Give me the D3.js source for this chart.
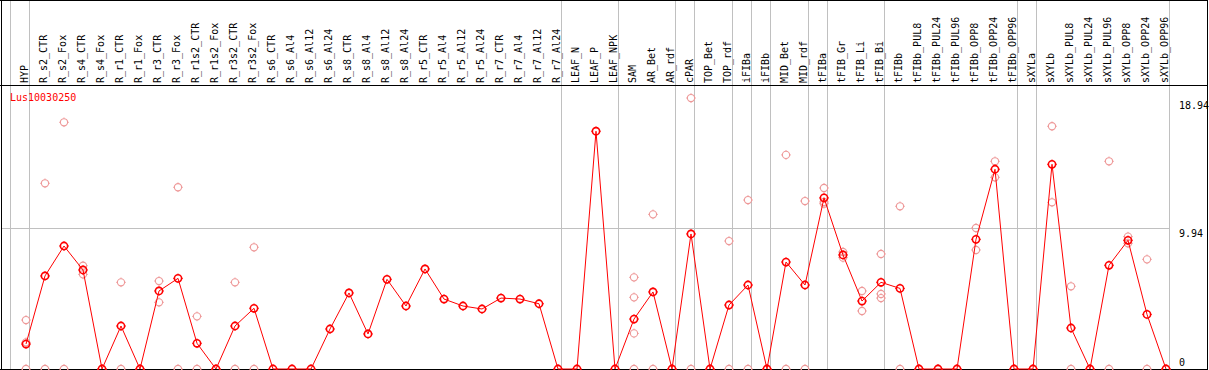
<!DOCTYPE html>
<html><head><meta charset="utf-8">
<script src="https://cdn.jsdelivr.net/npm/d3@7"></script>
<style>body{margin:0;background:#fff}svg{display:block}</style>
</head><body>
<script>
const categories = ["HYP","R_s2_CTR","R_s2_Fox","R_s4_CTR","R_s4_Fox","R_r1_CTR","R_r1_Fox","R_r3_CTR","R_r3_Fox","R_r1s2_CTR","R_r1s2_Fox","R_r3s2_CTR","R_r3s2_Fox","R_s6_CTR","R_s6_Al4","R_s6_Al12","R_s6_Al24","R_s8_CTR","R_s8_Al4","R_s8_Al12","R_s8_Al24","R_r5_CTR","R_r5_Al4","R_r5_Al12","R_r5_Al24","R_r7_CTR","R_r7_Al4","R_r7_Al12","R_r7_Al24","LEAF_N","LEAF_P","LEAF_NPK","SAM","AR_Bet","AR_rdf","cPAR","TOP_Bet","TOP_rdf","iFIBa","iFIBb","MID_Bet","MID_rdf","tFIBa","tFIB_Gr","tFIB_Li","tFIB_Bi","tFIBb","tFIBb_PUL8","tFIBb_PUL24","tFIBb_PUL96","tFIBb_OPP8","tFIBb_OPP24","tFIBb_OPP96","sXYLa","sXYLb","sXYLb_PUL8","sXYLb_PUL24","sXYLb_PUL96","sXYLb_OPP8","sXYLb_OPP24","sXYLb_OPP96"];
const meanValues = [1.76,6.56,8.67,6.98,0,3.03,0,5.50,6.39,1.81,0,3.03,4.28,0,0,0,2.82,5.36,2.47,6.32,4.44,7.05,4.93,4.44,4.23,5.0,4.93,4.6,0,0,16.76,0,3.52,5.43,0,9.52,0,4.51,5.92,0,7.54,5.92,12.06,8.04,4.79,6.11,5.68,0,0,0,9.14,14.08,0,0,14.43,2.89,0,7.31,9.07,3.85,0];
const replicates = [[3.45,1.88,0],[13.09,0],[17.39,0],[7.28,6.67],[0],[6.11,0],[0],[6.2,4.7],[12.81,0],[3.71,0],[0],[6.11,0],[8.58,0],[],[],[],[],[],[],[],[],[],[],[],[],[],[],[],[],[],[],[],[6.46,5.05,2.51,0],[10.9,0],[0],[19.1,0],[0],[9.02,0],[11.91,0],[0],[15.09,0],[11.84,0],[12.76,11.77,11.65],[8.25,7.85],[5.5,4.09],[8.11,5.29,5.0],[11.47,0],[0],[0],[0],[9.94,8.39],[14.64,13.51],[0],[0],[17.11,11.75],[5.83,0],[0],[14.64,0],[9.33,8.86],[7.73,0],[0]];
const separators = [0,1,29,32,35,36,38,39,40,42,43,46,53,54,61];
const yTicks = [0, 9.94, 18.94];
const geneName = "Lus10030250";

const W = 1209, H = 370;
const svg = d3.select("body").append("svg").attr("width", W).attr("height", H);
const font = "'DejaVu Sans Mono', monospace";

const colX = d3.scaleLinear().domain([0, categories.length]).range([11, 11 + 19 * categories.length]);
const px = i => colX(i) + 15;
const y = d3.scaleLinear().domain([0, 18.94]).range([369, 100.3]);

svg.append("g").selectAll("line").data(separators).join("line")
  .attr("x1", d => colX(d) - 0.5).attr("x2", d => colX(d) - 0.5)
  .attr("y1", 0).attr("y2", 369)
  .attr("stroke", "#c0c0c0").attr("stroke-width", 1);

svg.append("line").attr("x1", 1).attr("x2", colX(61)).attr("y1", Math.round(y(9.94)) + 0.5).attr("y2", Math.round(y(9.94)) + 0.5)
  .attr("stroke", "#c0c0c0");

svg.append("line").attr("x1", 0).attr("x2", 1208).attr("y1", 0.5).attr("y2", 0.5).attr("stroke", "#000");
svg.append("line").attr("x1", 0).attr("x2", 1208).attr("y1", 85.5).attr("y2", 85.5).attr("stroke", "#000");
svg.append("line").attr("x1", 0).attr("x2", 1208).attr("y1", 369.5).attr("y2", 369.5).attr("stroke", "#000");
svg.append("line").attr("x1", 1.5).attr("x2", 1.5).attr("y1", 0).attr("y2", 370).attr("stroke", "#000");
svg.append("line").attr("x1", 1207.5).attr("x2", 1207.5).attr("y1", 0).attr("y2", 370).attr("stroke", "#000");

svg.append("g").selectAll("text").data(categories).join("text")
  .attr("transform", (d, i) => `translate(${px(i) + 2},83) rotate(-90)`)
  .attr("font-family", font).attr("font-size", 10).attr("fill", "#000")
  .text(d => d);

svg.append("text").attr("x", 10).attr("y", 101).attr("font-family", font).attr("font-size", 10)
  .attr("fill", "#ff0000").text(geneName);

svg.append("g").selectAll("text").data(yTicks).join("text")
  .attr("x", 1179).attr("y", d => Math.min(y(d) + 9, 366))
  .attr("font-family", font).attr("font-size", 10).attr("fill", "#000")
  .text(d => d);

function marker(g, color, sw) {
  g.append("circle").attr("r", 3.6).attr("fill", "none").attr("stroke", color).attr("stroke-width", sw);
  [[0,-4.8,0,-3.6],[0,3.6,0,4.8],[-4.8,0,-3.6,0],[3.6,0,4.8,0]].forEach(s =>
    g.append("line").attr("x1", s[0]).attr("y1", s[1]).attr("x2", s[2]).attr("y2", s[3])
      .attr("stroke", color).attr("stroke-width", 1));
}

const repData = [];
replicates.forEach((arr, i) => arr.forEach(v => repData.push({i, v})));
svg.append("g").selectAll("g").data(repData).join("g")
  .attr("transform", d => `translate(${px(d.i)},${y(d.v)})`)
  .each(function() { marker(d3.select(this), "#ee9999", 1.1); });

const line = d3.line().x((d, i) => px(i)).y(d => y(d));
svg.append("path").datum(meanValues).attr("d", line).attr("fill", "none").attr("stroke", "#ff0000").attr("stroke-width", 1);

svg.append("g").selectAll("g").data(meanValues).join("g")
  .attr("transform", (d, i) => `translate(${px(i)},${y(d)})`)
  .each(function() { marker(d3.select(this), "#ff0000", 1.6); });
</script>
</body></html>
